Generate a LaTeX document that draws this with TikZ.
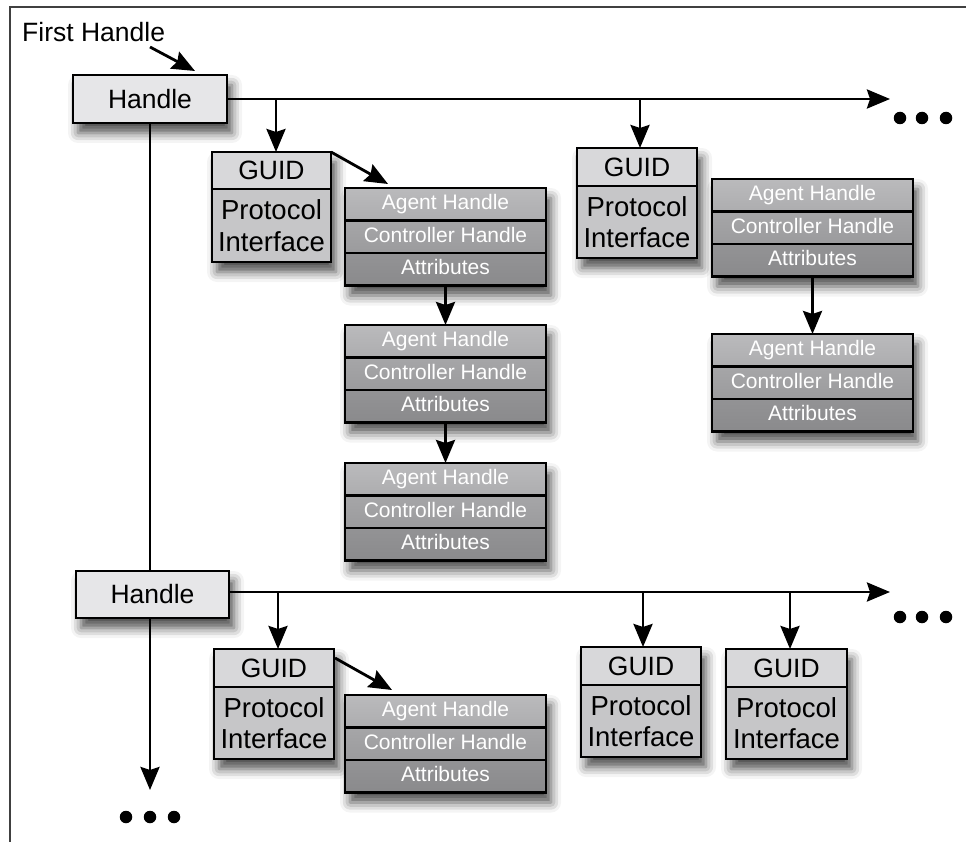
\documentclass[tikz,border=0pt]{standalone}
\usepackage{fontspec}
\setmainfont{Liberation Sans}
\usetikzlibrary{arrows.meta,shadows.blur,calc}
\definecolor{hfill}{HTML}{E6E6E8}
\definecolor{guidA}{HTML}{D8D8DA}
\definecolor{guidB}{HTML}{C6C6C8}
\definecolor{agAt}{HTML}{BABABC}
\definecolor{agAb}{HTML}{ADADAF}
\definecolor{agBt}{HTML}{A6A6A8}
\definecolor{agBb}{HTML}{9B9B9D}
\definecolor{agCt}{HTML}{939395}
\definecolor{agCb}{HTML}{8A8A8C}
\tikzset{
  big/.style={font=\fontsize{26.5}{30}\selectfont},
  pif/.style={font=\fontsize{27.5}{31.5}\selectfont},
  small/.style={font=\fontsize{21}{24}\selectfont},
  part/.style={draw=black, line width=2.8pt, inner sep=0pt, outer sep=0pt, anchor=north west, align=center},
  shad/.style={anchor=north west, inner sep=0pt, outer sep=0pt, fill=white,
    blur shadow={shadow xshift=5pt, shadow yshift=-10pt, shadow blur radius=10pt, shadow opacity=70}},
  arr/.style={line width=2.8pt, -{Stealth[length=23pt,width=19pt,inset=3pt]}},
  ln/.style={line width=2.8pt},
  dot/.style={circle, fill=black, inner sep=0pt, minimum size=12.5pt},
  handlebox/.style={draw=black, line width=2.8pt, fill=hfill, big, inner sep=0pt,
    blur shadow={shadow xshift=5pt, shadow yshift=-10pt, shadow blur radius=10pt, shadow opacity=70}},
  agrow/.style={part, small, text=white, minimum width=201pt, minimum height=32.5pt, text height=15pt, text depth=4pt},
}
\newcommand{\agentbox}[3]{%
  \node[shad, minimum width=201pt, minimum height=97.5pt] (#1) at (#2,#3) {};
  \node[agrow, top color=agAt, bottom color=agAb] (#1a) at (#2,#3) {Agent Handle};
  \node[agrow, top color=agBt, bottom color=agBb] (#1b) at (#1a.south west) {Controller Handle};
  \node[agrow, top color=agCt, bottom color=agCb] (#1c) at (#1b.south west) {Attributes};
}
\newcommand{\guidbox}[5]{%
  \node[shad, minimum width=#4pt, minimum height=110pt] (#1) at (#2,#3) {};
  \node[part, big, fill=guidA, minimum width=#4pt, minimum height=#5pt, text height=19pt, text depth=0pt] (#1a) at (#2,#3) {GUID};
  \node[part, pif, fill=guidB, minimum width=#4pt, minimum height={110pt-#5pt}] (#1b) at (#1a.south west) {Protocol\\Interface};
}
\begin{document}
\begin{tikzpicture}[x=1pt,y=-1pt]
\useasboundingbox (0,0) rectangle (966,842);
\draw[line width=2pt, black!75] (9.5,842) -- (9.5,7) -- (966,7);

% labels and handles
\node[big, anchor=base west, inner sep=0pt] (fh) at (22,42) {First Handle};
\node[handlebox, minimum width=154pt, minimum height=48pt] (h1) at (150,99) {Handle};
\node[handlebox, minimum width=153pt, minimum height=47pt] (h2) at (152.5,594.5) {Handle};

% boxes
\guidbox{g1}{212}{152}{119}{37}
\guidbox{g2}{577}{148}{120}{38}
\guidbox{g3}{214}{649}{120}{38}
\guidbox{g4}{581}{647}{120}{38}
\guidbox{g5}{726}{649}{121}{38}
\agentbox{a1}{345}{188}
\agentbox{a2}{345}{325}
\agentbox{a3}{345}{463}
\agentbox{a4}{712}{179}
\agentbox{a5}{712}{334}
\agentbox{a6}{345}{695}

% first handle arrow
\coordinate (fs) at (150,47);
\coordinate (ft) at (195,71);
\draw[arr] (fs) -- (ft);

% top row
\coordinate (e1) at (890,99);
\draw[arr] (h1.east) -- (e1);
\coordinate (b1) at (276,99);
\coordinate (b2) at (640,99);
\draw[arr] (b1) -- (b1 |- g1a.north);
\draw[arr] (b2) -- (b2 |- g2a.north);
\coordinate (t1) at (388,184);
\draw[arr] (g1a.north east) -- (t1);
\draw[arr] (a1c.south) -- (a2a.north);
\draw[arr] (a2c.south) -- (a3a.north);
\draw[arr] (a4c.south) -- (a5a.north);

% trunk
\draw[ln] (h1.south) -- (h1.south |- h2.north);
\coordinate (e3) at (150,790);
\draw[arr] (h1.south |- h2.south) -- (e3);

% bottom row
\coordinate (e2) at (890,592);
\draw[arr] (h2.east |- e2) -- (e2);
\coordinate (b3) at (278,592);
\coordinate (b4) at (643,592);
\coordinate (b5) at (790,592);
\draw[arr] (b3) -- (b3 |- g3a.north);
\draw[arr] (b4) -- (b4 |- g4a.north);
\draw[arr] (b5) -- (b5 |- g5a.north);
\coordinate (s6) at (335,658);
\coordinate (t6) at (392,690);
\draw[arr] (s6) -- (t6);

% dots
\node[dot] (d1) at (900,118) {};
\node[dot] (d2) at (922,118) {};
\node[dot] (d3) at (946,118) {};
\node[dot] (d4) at (900,617) {};
\node[dot] (d5) at (922,617) {};
\node[dot] (d6) at (946,617) {};
\node[dot] (d7) at (126,817) {};
\node[dot] (d8) at (150,817) {};
\node[dot] (d9) at (174,817) {};
\end{tikzpicture}
\end{document}
